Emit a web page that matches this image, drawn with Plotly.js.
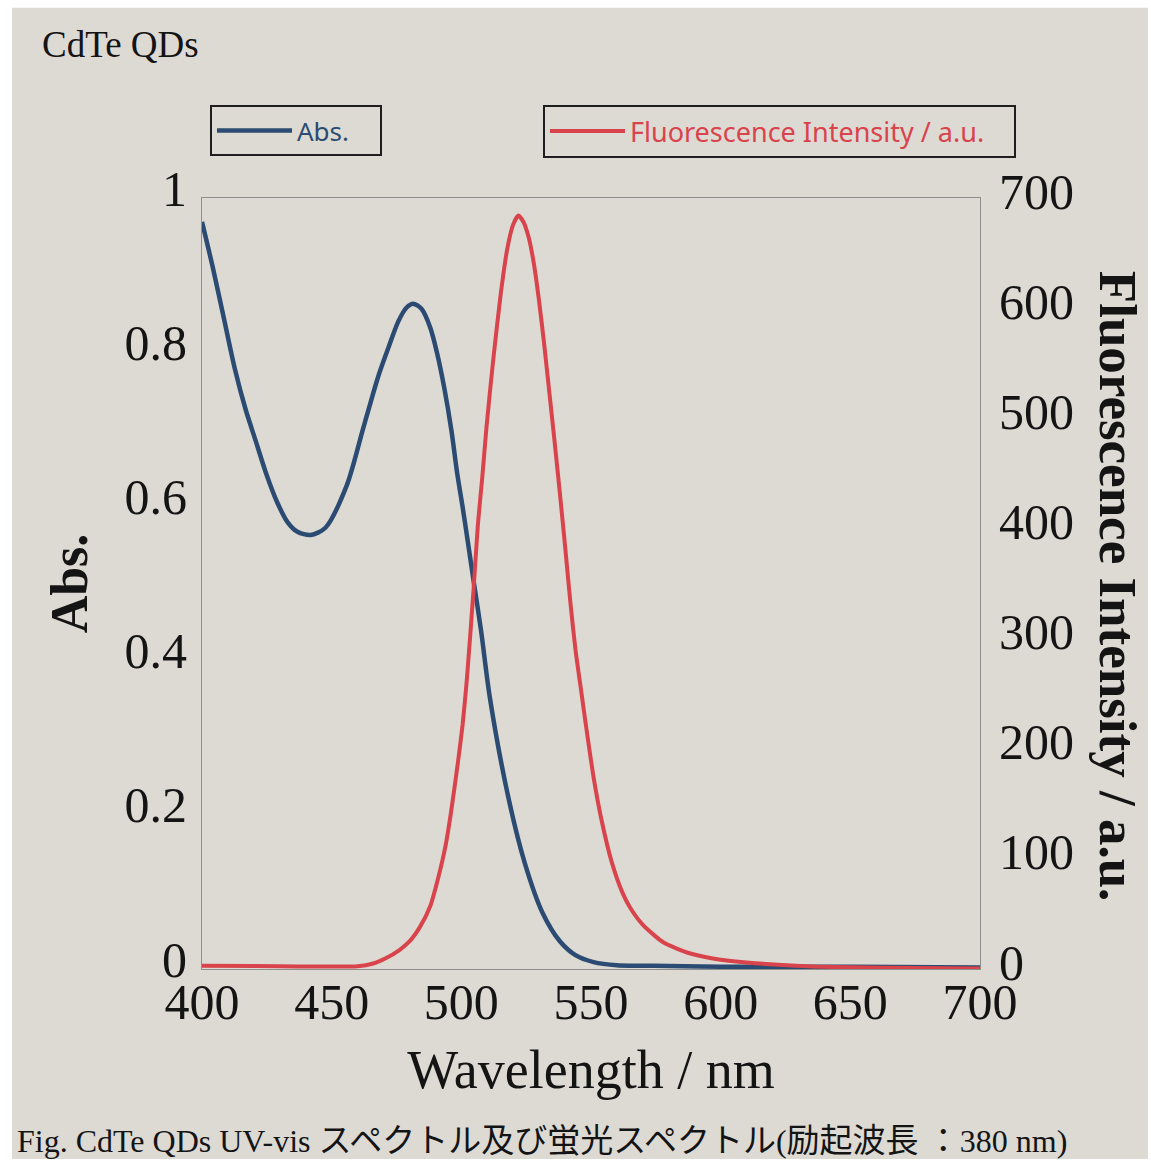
<!DOCTYPE html>
<html>
<head>
<meta charset="utf-8">
<script src="https://cdn.plot.ly/plotly-3.0.1.min.js"></script>
<style>
  html, body { margin: 0; padding: 0; background: #ffffff; }
  #chart { width: 1151px; height: 1162px; }
</style>
</head>
<body>
<div id="chart"></div>
<script>
// ---- Data ----
const absWavelength = [400, 404.3, 408.5, 412.7, 416.8, 420.8, 424.9, 428.9, 432.9, 436.8, 441.9, 447.5, 455.9, 461.8, 465.1, 468.2, 471.9, 475.7, 478.9, 481.4, 484.7, 488.0, 490.7, 493.4, 496.2, 498.4, 500.5, 502.6, 504.7, 507.6, 511.0, 518.1, 524.5, 531.3, 538.0, 544, 551, 560, 580, 600, 650, 700];
const absValues = [0.969, 0.908, 0.843, 0.778, 0.726, 0.684, 0.641, 0.606, 0.580, 0.567, 0.563, 0.572, 0.628, 0.697, 0.736, 0.771, 0.806, 0.840, 0.858, 0.863, 0.856, 0.832, 0.798, 0.754, 0.698, 0.643, 0.599, 0.552, 0.504, 0.439, 0.352, 0.223, 0.137, 0.073, 0.036, 0.018, 0.009, 0.005, 0.004, 0.003, 0.003, 0.002];

const flWavelength = [400, 430, 460, 466, 471, 476, 480, 484, 488, 491, 494, 496, 498.6, 500.5, 502.1, 504.7, 506.4, 508.1, 509.7, 512.3, 515.2, 517.8, 520, 522, 524, 526, 528, 530, 532, 534, 536, 538, 540, 542, 544, 546, 548, 551, 554, 558, 562, 565, 570, 578, 587, 597, 610, 629, 650, 675, 700];
const flValues = [3, 2.5, 2.5, 5, 10, 17, 25, 38, 57, 82, 113, 142, 186, 222, 262, 344, 404, 447, 492, 553, 613, 655, 676, 684, 678, 664, 640, 606, 566, 522, 478, 432, 384, 334, 290, 256, 222, 174, 136, 97, 70, 56, 40, 24, 15, 9.6, 6, 3, 1.5, 1, 0.5];

const seriesNames = ['Abs.', 'Fluorescence Intensity / a.u.'];
const xTickValues = [400, 450, 500, 550, 600, 650, 700];
const absTickValues = [0, 0.2, 0.4, 0.6, 0.8, 1];
const absTickLabels = ['0', '0.2', '0.4', '0.6', '0.8', '1'];
const flTickValues = [0, 100, 200, 300, 400, 500, 600, 700];

const chartTitle = 'CdTe QDs';
const xTitle = 'Wavelength / nm';
const yTitle = 'Abs.';
const y2Title = 'Fluorescence Intensity / a.u.';
const caption = 'Fig. CdTe QDs UV-vis <span style="font-size:33px">スペクトル及び蛍光スペクトル</span>(<span style="font-size:33px">励起波長 ：</span>380 nm)';

// ---- Styles ----
const BLUE = '#2b4b72';
const RED = '#d9434b';
const INK = '#141414';
const FRAME = '#8e8e8e';
const SERIF = 'Liberation Serif, Times New Roman, serif';
const SANS = 'Noto Sans, Open Sans, sans-serif';

const traces = [
  {
    x: absWavelength, y: absValues, name: seriesNames[0],
    type: 'scatter', mode: 'lines', yaxis: 'y', legend: 'legend',
    line: { color: BLUE, width: 4.5, shape: 'spline', smoothing: 0.8 }
  },
  {
    x: flWavelength, y: flValues, name: seriesNames[1],
    type: 'scatter', mode: 'lines', yaxis: 'y2', legend: 'legend2',
    line: { color: RED, width: 4, shape: 'spline', smoothing: 0.6 }
  }
];

const axisCommon = {
  showgrid: false, zeroline: false, ticks: '',
  showline: true, linecolor: FRAME, linewidth: 1,
  tickfont: { family: SERIF, size: 50, color: INK },
  automargin: false, fixedrange: true
};

const layout = {
  width: 1151, height: 1162,
  margin: { l: 202, r: 171, t: 198, b: 193, pad: 0 },
  paper_bgcolor: '#ffffff',
  plot_bgcolor: 'rgba(0,0,0,0)',
  showlegend: true,
  xaxis: Object.assign({}, axisCommon, {
    range: [400, 700], tickvals: xTickValues, mirror: true,
    ticklabelstandoff: -11,
    title: { text: xTitle, font: { family: SERIF, size: 54, color: INK }, standoff: 21 }
  }),
  yaxis: Object.assign({}, axisCommon, {
    range: [0, 1], tickvals: absTickValues, ticktext: absTickLabels, mirror: true,
    ticklabelstandoff: 4, ticklabelshift: -10,
    title: { text: yTitle, font: { family: SERIF, size: 52, color: INK, weight: 'bold' }, standoff: 20 }
  }),
  yaxis2: Object.assign({}, axisCommon, {
    range: [0, 700], tickvals: flTickValues, overlaying: 'y', side: 'right',
    ticklabelstandoff: 8, ticklabelshift: -7
  }),
  legend: {
    xref: 'container', yref: 'container',
    x: 210 / 1151, y: 1 - 105 / 1162, xanchor: 'left', yanchor: 'top',
    orientation: 'h', entrywidth: 78, itemwidth: 75,
    bgcolor: 'rgba(0,0,0,0)', bordercolor: '#1e1e1e', borderwidth: 2,
    font: { family: SANS, size: 26, color: BLUE }
  },
  legend2: {
    xref: 'container', yref: 'container',
    x: 543 / 1151, y: 1 - 105 / 1162, xanchor: 'left', yanchor: 'top',
    orientation: 'h', entrywidth: 379, itemwidth: 75,
    bgcolor: 'rgba(0,0,0,0)', bordercolor: '#1e1e1e', borderwidth: 2,
    font: { family: SANS, size: 27, color: RED }
  },
  shapes: [
    {
      type: 'rect', xref: 'paper', yref: 'paper', layer: 'below',
      x0: -0.2442, x1: 1.2159, y0: -0.2464, y1: 1.2468,
      fillcolor: '#dddad4', line: { width: 0 }
    }
  ],
  annotations: [
    {
      text: chartTitle, xref: 'paper', yref: 'paper',
      x: -0.2082, y: 1.1995, xanchor: 'left', yanchor: 'middle', showarrow: false,
      font: { family: SERIF, size: 37, color: INK }
    },
    {
      text: y2Title, xref: 'paper', yref: 'paper',
      x: 1.1774, y: 0.497, xanchor: 'center', yanchor: 'middle', showarrow: false,
      textangle: 90,
      font: { family: SERIF, size: 53, color: INK, weight: 'bold' }
    },
    {
      text: caption, xref: 'paper', yref: 'paper',
      x: -0.2404, y: -0.2233, xanchor: 'left', yanchor: 'middle', showarrow: false,
      font: { family: SERIF + ', Noto Sans CJK JP', size: 32, color: INK }
    }
  ]
};

Plotly.newPlot('chart', traces, layout, { displayModeBar: false, staticPlot: true });
</script>
</body>
</html>
